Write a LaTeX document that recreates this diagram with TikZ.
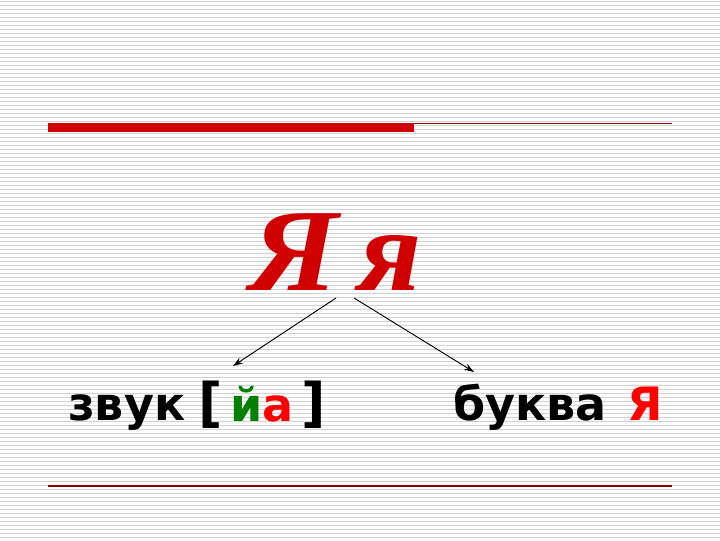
\documentclass[tikz,border=0pt]{standalone}
\usepackage{fontspec}
\usepackage{tikz}
\usetikzlibrary{arrows.meta}
\newfontfamily\titlefont{Liberation Serif}
\newfontfamily\wordfont{DejaVu Sans}
\definecolor{barred}{RGB}{208,0,0}
\definecolor{linered}{RGB}{140,0,0}
\definecolor{brightred}{RGB}{255,0,0}
\definecolor{soundgreen}{RGB}{0,128,0}

\begin{document}
\begin{tikzpicture}[
      x = 0.75pt, y = -0.75pt,
      every node/.style = {inner sep = 0pt, anchor = base west},
      stripe/.style = {gray!35, line width = 0.75pt},
      bigletter/.style = {barred, font = \titlefont\bfseries\itshape\fontsize{88}{90}\selectfont},
      word/.style = {black, font = \wordfont\bfseries\fontsize{34.5}{40}\selectfont},
      link/.style = {black, line width = 0.7pt, -{Stealth[length = 7.5pt, width = 5pt]}}
      ]
    \fill[white] (0,0) rectangle (720,540);
    \useasboundingbox (0,0) rectangle (720,540);
    \foreach \y in {1,5,...,540}
      \draw[stripe] (0,\y) -- (720,\y);
    % top rule
    \fill[barred] (48,123) rectangle (414,132);
    \draw[linered, line width = 0.9pt] (414,123.5) -- (672,123.5);
    % bottom rule
    \draw[linered, line width = 0.9pt] (48,486) -- (672,486);
    % letters
    \node[bigletter, xscale = 1.1, transform shape] (Cap) at (249,290) {Я};
    \node[bigletter, xscale = 1.05, transform shape] (Low) at (358,290) {я};
    \coordinate (fromL) at (336,298);
    \coordinate (fromR) at (354,298);
    % words
    \node[word] (zvuk) at (68,420) {звук};
    \node[word] (sound) at (198,421) {{\fontsize{40}{40}\selectfont[}\,\textcolor{soundgreen}{й}\textcolor{brightred}{а}\,{\fontsize{40}{40}\selectfont]}};
    \node[word] (bukva) at (453,420) {буква};
    \node[word, brightred] (letter) at (627,420) {Я};
    \coordinate (toL) at (233,366);
    \coordinate (toR) at (474,372);
    \draw[link] (fromL) -- (toL);
    \draw[link] (fromR) -- (toR);
  \end{tikzpicture}
\end{document}
